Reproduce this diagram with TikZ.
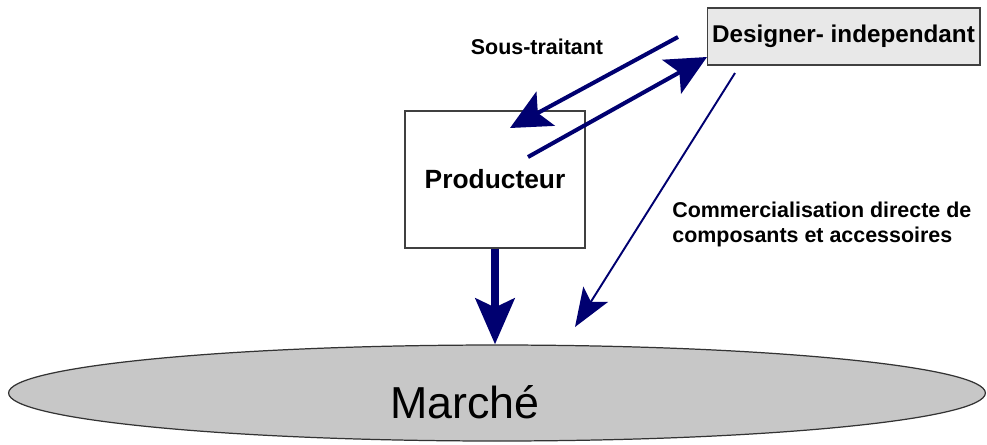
\documentclass[tikz,border=0pt]{standalone}
\usepackage{fontspec}
\setmainfont{Liberation Sans}
\usetikzlibrary{arrows.meta,shapes.geometric}
\definecolor{navy}{RGB}{0,0,112}
\tikzset{
    box/.style={rectangle, draw=black!75, line width=0.6pt, inner sep=0mm},
    lbl/.style={inner sep=0mm, font=\bfseries\fontsize{12.2}{14.2}\selectfont},
    flow/.style={navy, line width=2.3pt, -{Stealth[length=23pt, width=22pt, inset=5pt]}},
    thinflow/.style={navy, line width=1.1pt, -{Stealth[length=22pt, width=16.5pt, inset=5pt]}},
    bigflow/.style={navy, line width=5pt, -{Stealth[length=26pt, width=22pt, inset=5pt]}}
}

\begin{document}
\begin{tikzpicture}[x=0.02cm, y=-0.02cm]
    \useasboundingbox (0,0) rectangle (987,444);

    \node (designer) [box, fill=black!9, minimum width=5.46cm, minimum height=1.14cm,
        font=\bfseries\fontsize{13.8}{16}\selectfont] at (843.5,36.5) {Designer- independant};
    \node (prod) [box, fill=white, minimum width=3.6cm, minimum height=2.74cm,
        font=\bfseries\fontsize{15}{18}\selectfont] at (495,179.5) {Producteur};
    \node (marche) [ellipse, draw=black!80, line width=0.7pt, fill=black!22,
        minimum width=19.54cm, minimum height=1.92cm, inner sep=0mm] at (497,393) {};
    \node (marchetxt) [inner sep=0mm, anchor=base, font=\fontsize{25.5}{30}\selectfont] at (465,418) {Marché};

    \node (soustr) [lbl] at (537,47) {Sous-traitant};
    \node (comm) [lbl, anchor=north west, align=left] at (672,202) {Commercialisation directe de\\composants et accessoires};

    % free ends of the arrows
    \coordinate (st1a) at (678,37);
    \coordinate (st1b) at (510,128);
    \coordinate (st2a) at (528,157);
    \coordinate (st2b) at (707,57);
    \coordinate (cda) at (735,73);
    \coordinate (cdb) at (575,327);

    \draw[flow] (st1a) -- (st1b);
    \draw[flow] (st2a) -- (st2b);
    \draw[thinflow] (cda) -- (cdb);
    \draw[bigflow] (prod.south) -- (prod.south |- marche.north);
\end{tikzpicture}
\end{document}
